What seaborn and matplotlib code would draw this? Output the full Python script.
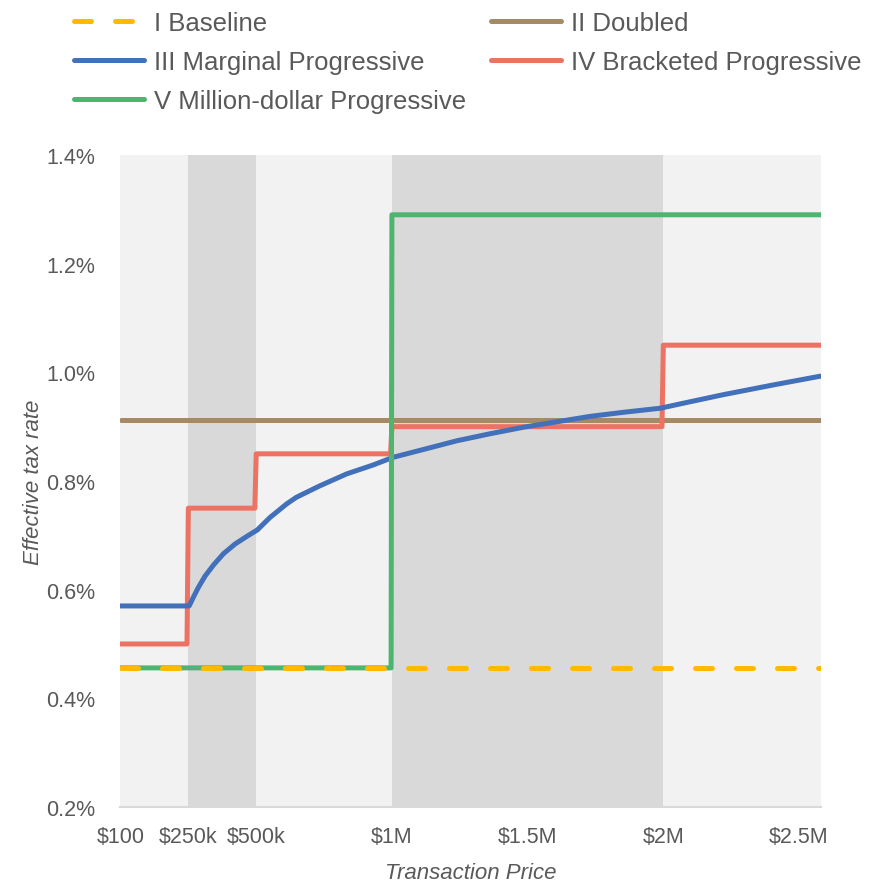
import seaborn as sns
import matplotlib
matplotlib.use('Agg')
from matplotlib import pyplot as plt

# effective tax rate (%) by transaction price ($)
x_max = 2580000
baseline_x = [100, 2580000]
baseline_y = [0.456, 0.456]
doubled_x = [100, 2580000]
doubled_y = [0.912, 0.912]
marginal_x = [100, 250000, 253600, 268400, 286800, 311500, 342100, 379000, 422100, 465300,
              504300, 551200, 612700, 648000, 734000, 833000, 931000, 1005000, 1116000,
              1239000, 1362000, 1485000, 1608000, 1731000, 1854000, 1989000, 2100000,
              2222000, 2407000, 2579000]
marginal_y = [0.570, 0.570, 0.5705, 0.586, 0.604, 0.625, 0.645, 0.666, 0.684, 0.698,
              0.710, 0.733, 0.758, 0.770, 0.791, 0.813, 0.8295, 0.8437, 0.858,
              0.874, 0.887, 0.899, 0.909, 0.919, 0.9265, 0.934, 0.946,
              0.959, 0.977, 0.993]
bracketed_x = [100, 245000, 250000, 495000, 500000, 995000, 1000000, 1995000, 2000000, 2580000]
bracketed_y = [0.50, 0.50, 0.75, 0.75, 0.85, 0.85, 0.90, 0.90, 1.05, 1.05]
million_x = [100, 997000, 1000000, 2580000]
million_y = [0.456, 0.456, 1.29, 1.29]

bands = [(250000, 500000), (1000000, 2000000)]
tick_pos = [100, 250000, 500000, 1000000, 1500000, 2000000, 2500000]
tick_lab = ['$100', '$250k', '$500k', '$1M', '$1.5M', '$2M', '$2.5M']
ytick_pos = [0.2, 0.4, 0.6, 0.8, 1.0, 1.2, 1.4]

sns.set_theme(style='white')
plt.rcParams['font.family'] = ['Liberation Sans', 'DejaVu Sans']

fig = plt.figure(figsize=(8.75, 8.87), dpi=100)
ax = fig.add_axes([0.1377, 0.0891, 0.8003, 0.735])

ax.axvspan(0, x_max, color='#f2f2f2', lw=0, zorder=0)
for a, b in bands:
    ax.axvspan(a, b, color='#d9d9d9', lw=0, zorder=0)

lw = 3.6
series = [
    ('II Doubled', doubled_x, doubled_y, '#a68a64'),
    ('IV Bracketed Progressive', bracketed_x, bracketed_y, '#ec7263'),
    ('III Marginal Progressive', marginal_x, marginal_y, '#4270bb'),
    ('V Million-dollar Progressive', million_x, million_y, '#4db570'),
    ('I Baseline', baseline_x, baseline_y, '#ffba00'),
]
for label, xs, ys, col in series:
    sns.lineplot(x=xs, y=ys, ax=ax, color=col, linewidth=lw, label=label,
                 estimator=None, sort=False, solid_capstyle='round',
                 solid_joinstyle='round', zorder=3)

base_line = ax.get_lines()[-1]
base_line.set_dashes((3.4, 4.8))
base_line.set_dash_capstyle('round')

ax.set_xlim(0, x_max)
ax.set_ylim(0.2, 1.4)
ax.set_xticks(tick_pos)
ax.set_xticklabels(tick_lab)
ax.set_yticks(ytick_pos)
ax.set_yticklabels([f'{v:.1f}%' for v in ytick_pos])
ax.tick_params(axis='x', length=0, pad=13.5, labelsize=15.5, labelcolor='#595959')
ax.tick_params(axis='y', length=0, pad=18, labelsize=15.5, labelcolor='#595959')
ax.set_xlabel('Transaction Price', fontsize=16, style='italic', color='#595959', labelpad=11)
ax.set_ylabel('Effective tax rate', fontsize=16, style='italic', color='#595959', labelpad=2)
ax.set_facecolor('none')
for s in ['top', 'left', 'right']:
    ax.spines[s].set_visible(False)
ax.spines['bottom'].set_color('#d9d9d9')
ax.spines['bottom'].set_linewidth(1.5)

handles, labels = ax.get_legend_handles_labels()
ax.get_legend().remove()
lookup = dict(zip(labels, handles))
order = ['I Baseline', 'III Marginal Progressive', 'V Million-dollar Progressive',
         'II Doubled', 'IV Bracketed Progressive']
leg = fig.legend([lookup[k] for k in order], order, loc='upper left',
                 bbox_to_anchor=(0.058, 1.013), ncol=2, frameon=False, fontsize=18.5,
                 handlelength=2.72, handletextpad=0.39, columnspacing=0.97, labelspacing=0.6)
for t in leg.get_texts():
    t.set_color('#595959')

fig.savefig('out.png', dpi=100)
